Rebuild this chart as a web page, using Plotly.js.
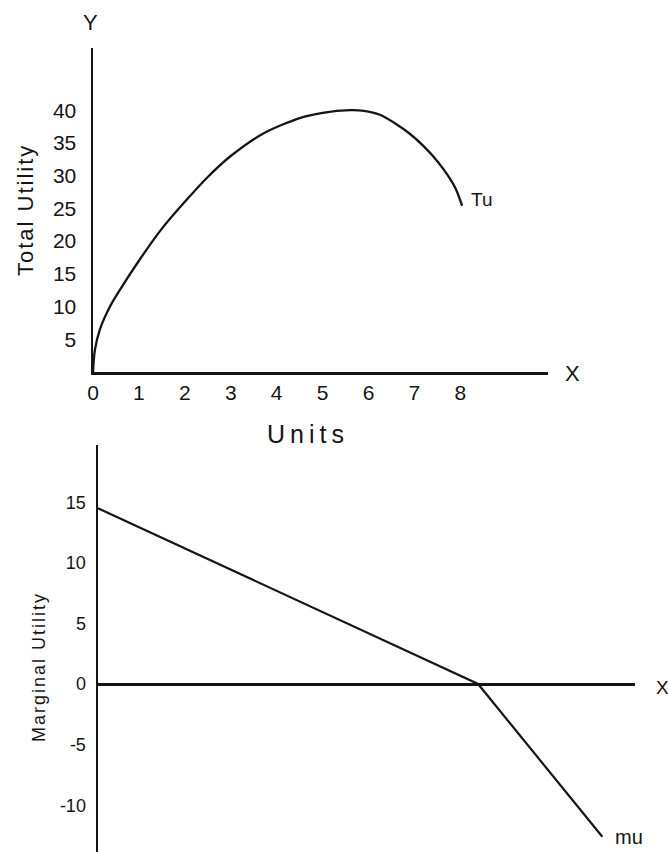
<!DOCTYPE html>
<html>
<head>
<meta charset="utf-8">
<script src="https://cdn.plot.ly/plotly-3.0.1.min.js"></script>
<style>html,body{margin:0;padding:0;background:#fff;}#chart{width:668px;height:852px;}</style>
</head>
<body>
<div id="chart"></div>
<script>
// Total utility curve
var tuUnits  = [0, 0.04, 0.15, 0.37, 0.6, 1.0, 1.5, 2.0, 2.5, 3.0, 3.7, 4.5, 5.0, 5.6, 5.9, 6.25, 6.6, 6.9, 7.2, 7.5, 7.75, 7.9, 8.04];
var tuValues = [0, 3.3, 6.5, 10.0, 12.7, 17.0, 21.9, 26.0, 29.8, 33.0, 36.4, 38.8, 39.6, 40.0, 39.9, 39.3, 37.9, 36.4, 34.5, 32.2, 29.8, 28.0, 25.4];
// Marginal utility line
var muUnits  = [0, 8.26, 10.96];
var muValues = [14.5, 0, -12.6];
// Tick labels
var xTicks   = [0, 1, 2, 3, 4, 5, 6, 7, 8];
var tuTicks  = [5, 10, 15, 20, 25, 30, 35, 40];
var muTicks  = [-10, -5, 0, 5, 10, 15];

var W = 668, H = 852;
function px(x){ return x / W; }
function py(y){ return 1 - y / H; }
var ink = '#151515';
var fam = 'Liberation Sans, Arial, sans-serif';

var traces = [
  {x: tuUnits, y: tuValues, mode: 'lines', line: {color: ink, width: 2.3, shape: 'spline', smoothing: 0.8}, xaxis: 'x', yaxis: 'y', hoverinfo: 'none'},
  {x: muUnits, y: muValues, mode: 'lines', line: {color: ink, width: 2.2}, xaxis: 'x2', yaxis: 'y2', hoverinfo: 'none'}
];

function ann(text, x, y, size, extra){
  var a = {text: text, x: px(x), y: py(y), xref: 'paper', yref: 'paper', showarrow: false,
           font: {family: fam, size: size, color: ink}, xanchor: 'center', yanchor: 'middle'};
  for (var k in extra) a[k] = extra[k];
  return a;
}

var layout = {
  width: W, height: H,
  margin: {l: 0, r: 0, t: 0, b: 0},
  paper_bgcolor: '#fff', plot_bgcolor: '#fff',
  showlegend: false,
  font: {family: fam, color: ink},
  xaxis: {
    domain: [px(93), px(548)], range: [0, 9.91], anchor: 'y',
    showline: true, linewidth: 2.5, linecolor: ink, showgrid: false, zeroline: false,
    tickmode: 'array', tickvals: xTicks, ticktext: xTicks.map(String),
    ticks: '',
    tickfont: {family: fam, size: 21, color: ink}
  },
  yaxis: {
    domain: [py(372), py(48)], range: [0, 49.5], anchor: 'x',
    showline: true, linewidth: 2.5, linecolor: ink, showgrid: false, zeroline: false,
    tickmode: 'array', tickvals: tuTicks, ticktext: tuTicks.map(String),
    ticks: 'outside', ticklen: 10, tickcolor: 'rgba(0,0,0,0)',
    tickfont: {family: fam, size: 21, color: ink}
  },
  xaxis2: {
    domain: [px(98), px(635)], range: [0, 11.67], anchor: 'y2',
    showline: false, showgrid: false, zeroline: false, showticklabels: false, ticks: ''
  },
  yaxis2: {
    domain: [0, py(445)], range: [-13.86, 19.72], anchor: 'x2',
    showline: true, linewidth: 2.5, linecolor: ink, showgrid: false,
    zeroline: true, zerolinewidth: 3, zerolinecolor: ink,
    tickmode: 'array', tickvals: muTicks, ticktext: muTicks.map(String),
    ticks: 'outside', ticklen: 6, tickcolor: 'rgba(0,0,0,0)',
    tickfont: {family: fam, size: 18, color: ink}
  },
  annotations: [
    ann('Y', 90, 22, 22),
    ann('X', 572, 373, 22),
    ann('Tu', 481, 199, 19),
    ann('<span style="letter-spacing:2px">Total Utility</span>', 25, 210, 22, {textangle: -90}),
    ann('<span style="letter-spacing:5px">Units</span>', 308, 434, 25),
    ann('<span style="letter-spacing:2px">Marginal Utility</span>', 39, 667, 18, {textangle: -90}),
    ann('X', 654, 687, 19, {xanchor: 'left'}),
    ann('mu', 629, 837, 20)
  ]
};

Plotly.newPlot('chart', traces, layout, {staticPlot: true, displayModeBar: false});
</script>
</body>
</html>
